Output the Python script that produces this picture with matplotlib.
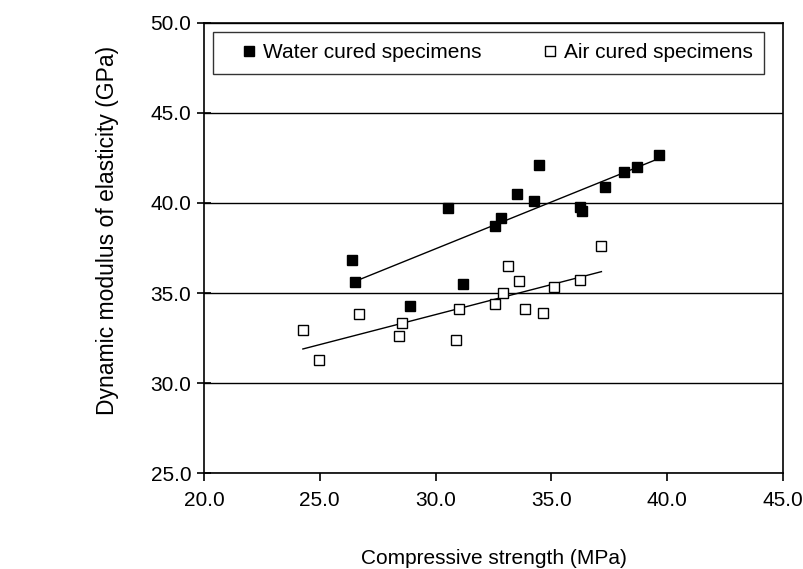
import numpy as np
import matplotlib
matplotlib.use("Agg")
import matplotlib.pyplot as plt

plt.rcParams['font.family'] = ['Liberation Sans', 'DejaVu Sans']

# Water cured specimens
water_fc = [26.38, 26.5, 28.9, 30.52, 31.2, 32.58, 32.81, 33.5, 34.25, 34.48,
            36.23, 36.3, 37.33, 38.13, 38.7, 39.63]
water_ed = [36.83, 35.63, 34.29, 39.7, 35.48, 38.74, 39.15, 40.5, 40.11, 42.09,
            39.8, 39.56, 40.9, 41.7, 42.02, 42.67]

# Air cured specimens
air_fc = [24.27, 24.97, 26.68, 28.42, 28.56, 30.9, 31.02, 32.58, 32.9, 33.14,
          33.6, 33.87, 34.62, 35.11, 36.22, 37.16]
air_ed = [32.94, 31.26, 33.81, 32.61, 33.35, 32.39, 34.13, 34.37, 35.02, 36.52,
          35.67, 34.13, 33.91, 35.35, 35.72, 37.63]

fig = plt.figure(figsize=(8.04, 5.69), dpi=100)
ax = fig.add_axes([0.2537, 0.1687, 0.7202, 0.7909])

ax.set_xlim(20, 45)
ax.set_ylim(25, 50)
ax.set_xticks(np.arange(20, 46, 5))
ax.set_yticks(np.arange(25, 51, 5))
ax.xaxis.set_major_formatter(matplotlib.ticker.FormatStrFormatter('%.1f'))
ax.yaxis.set_major_formatter(matplotlib.ticker.FormatStrFormatter('%.1f'))
ax.grid(axis='y', color='black', linewidth=1.0)
ax.set_axisbelow(True)

for s in ax.spines.values():
    s.set_linewidth(1.2)
ax.tick_params(axis='x', direction='out', length=6, width=1.2, labelsize=15, pad=7)
ax.tick_params(axis='y', direction='inout', length=10, width=1.2, labelsize=15, pad=4)

# linear trend lines
for xs, ys in [(water_fc, water_ed), (air_fc, air_ed)]:
    k, b = np.polyfit(xs, ys, 1)
    xl = np.array([min(xs), max(xs)])
    ax.plot(xl, k * xl + b, color='black', linewidth=1.0, zorder=2)

ax.plot(water_fc, water_ed, 's', color='black', markersize=7.8,
        label='Water cured specimens', zorder=3)
ax.plot(air_fc, air_ed, 's', markerfacecolor='white', markeredgecolor='black',
        markeredgewidth=1.0, markersize=7.8, label='Air cured specimens', zorder=3)

leg = ax.legend(loc='upper left', bbox_to_anchor=(0.0155, 0.98),
                borderaxespad=0, ncol=2, fontsize=15, columnspacing=2.1,
                frameon=True, fancybox=False, handlelength=2.4,
                handletextpad=-0.55, borderpad=0.55, markerscale=0.88)
leg.get_frame().set_edgecolor('black')
leg.get_frame().set_linewidth(1.0)

ax.set_xlabel('Compressive strength (MPa)', fontsize=15)
ax.xaxis.set_label_coords(0.5, -0.169)
ax.set_ylabel('Dynamic modulus of elasticity (GPa)', fontsize=16.5)
ax.yaxis.set_label_coords(-0.147, 0.54)

fig.savefig('out.png', dpi=100)
